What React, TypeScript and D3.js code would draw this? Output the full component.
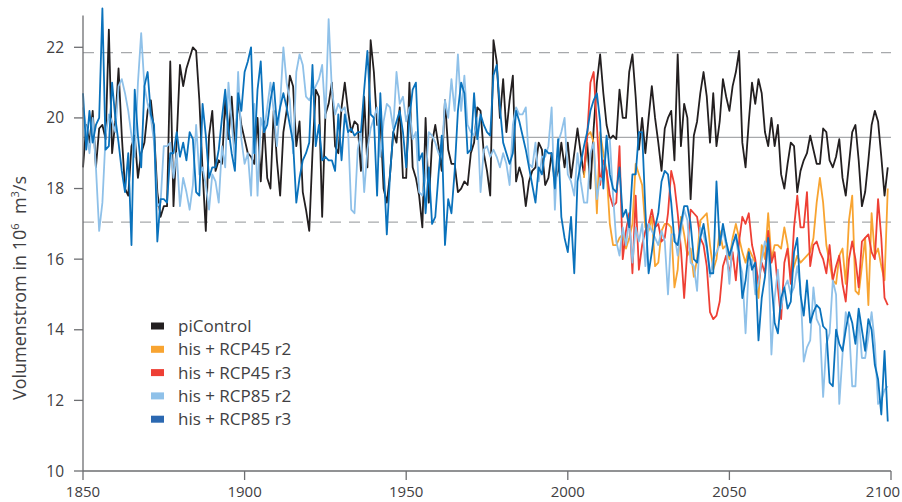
import React from 'react';
import * as d3 from 'd3';

// Jahreswerte
const piControl = [
  18.6, 19.8, 19.3, 20.2, 18.6, 19.7, 19.8, 19.4, 22.5, 19.0,
  19.9, 21.4, 19.5, 18.0, 17.8, 19.2, 19.5, 18.3, 19.0, 19.3,
  20.2, 20.5, 19.6, 17.9, 17.2, 17.5, 17.5, 21.6, 17.5, 19.4,
  21.5, 20.9, 21.4, 21.7, 22.0, 21.9, 20.5, 18.5, 16.8, 19.5,
  20.2, 18.5, 18.8, 18.7, 20.5, 19.4, 20.6, 19.2, 20.5, 19.8,
  19.4, 19.0, 18.9, 18.7, 20.0, 18.2, 19.9, 18.3, 18.0, 20.2,
  18.8, 17.8, 19.6, 20.2, 21.2, 20.9, 19.2, 19.9, 17.9, 17.4,
  16.8, 19.0, 20.8, 20.6, 17.2, 20.1, 20.4, 21.0, 19.2, 19.0,
  20.3, 21.0, 20.2, 19.6, 19.9, 19.8, 18.5, 20.6, 18.6, 22.2,
  21.3, 19.8, 20.0, 18.0, 17.6, 18.4, 19.6, 19.3, 20.3, 18.3,
  18.3, 21.0, 18.6, 18.3, 17.8, 16.9, 20.0, 17.6, 19.3, 19.8,
  19.2, 18.5, 20.5, 19.1, 18.7, 18.7, 17.9, 18.0, 18.2, 18.1,
  19.0, 19.3, 20.3, 20.2, 19.0, 18.5, 17.8, 22.2, 21.6, 20.0,
  21.1, 19.6, 20.5, 21.2, 18.2, 18.6, 18.3, 17.5, 18.2, 18.5,
  18.6, 19.3, 19.1, 18.1, 18.3, 19.0, 18.2, 18.5, 19.3, 18.6,
  19.3, 18.3, 19.0, 19.7, 19.0, 18.4, 19.3, 18.0, 19.7, 21.0,
  21.8, 20.7, 19.8, 19.4, 19.5, 19.4, 20.8, 20.0, 20.0, 21.3,
  21.8, 20.6, 19.1, 20.0, 19.0, 20.0, 20.9, 20.0, 19.3, 18.5,
  19.7, 20.0, 20.2, 18.8, 21.8, 19.2, 20.4, 20.0, 17.7, 19.5,
  19.9, 20.7, 21.3, 20.6, 19.3, 20.7, 19.2, 19.9, 21.1, 20.6,
  20.2, 20.9, 21.3, 21.9, 19.3, 18.6, 19.9, 21.0, 20.4, 21.1,
  20.7, 19.6, 19.2, 20.0, 19.2, 19.8, 18.4, 18.0, 18.7, 19.3,
  19.2, 17.9, 18.5, 18.8, 19.0, 19.5, 19.1, 18.7, 18.7, 19.7,
  19.6, 18.8, 18.6, 18.9, 19.4, 18.3, 17.8, 18.7, 19.6, 19.8,
  18.8, 17.5, 17.9, 18.8, 19.8, 20.2, 19.9, 18.9, 17.8, 18.6,
];

const rcp45r2 = [
  18.3, 19.5, 19.6, 19.3, 17.3,
  19.6, 19.0, 18.5, 17.0, 16.4, 16.4, 16.6, 16.7, 16.3, 16.6,
  17.0, 18.7, 18.4, 18.1, 16.9, 16.8, 17.2, 15.8, 15.9, 16.8,
  17.0, 17.0, 16.9, 15.2, 15.7, 17.2, 16.7, 16.1, 16.3, 15.5,
  16.0, 17.1, 17.2, 17.3, 16.4, 15.7, 16.0, 16.8, 16.3, 16.4,
  16.0, 16.6, 17.0, 16.6, 16.2, 15.9, 16.3, 16.1, 15.9, 14.9,
  16.4, 16.0, 17.3, 16.0, 16.4, 16.4, 16.3, 16.9, 16.4, 15.5,
  15.8, 16.1, 15.9, 16.0, 16.1, 16.2, 16.6, 17.6, 18.3, 17.6,
  16.4, 15.9, 15.4, 15.3, 16.1, 16.3, 15.3, 17.1, 17.8, 15.1,
  15.0, 15.8, 16.6, 14.7, 17.3, 16.1, 16.3, 15.8, 15.4, 18.0,
];

const rcp45r3 = [
  18.5, 19.5, 21.0, 21.3, 19.8,
  18.1, 18.8, 18.5, 17.8, 17.5, 17.6, 19.2, 16.0, 16.8, 17.3,
  15.6, 17.8, 15.7, 16.4, 16.8, 17.0, 17.4, 16.9, 17.0, 16.5,
  16.6, 17.3, 18.5, 18.1, 17.3, 16.3, 14.9, 16.3, 17.4, 17.3,
  17.2, 16.6, 16.4, 15.8, 14.5, 14.3, 14.4, 14.8, 15.8, 16.1,
  15.6, 16.2, 15.4, 16.5, 17.2, 17.0, 17.3, 16.4, 16.0, 15.3,
  15.9, 15.6, 16.8, 15.9, 16.2, 15.2, 14.3, 15.9, 16.3, 15.3,
  16.9, 17.8, 16.9, 16.9, 17.9, 15.8, 16.4, 16.5, 16.2, 16.0,
  15.6, 16.4, 15.4, 15.8, 16.1, 15.3, 14.8, 16.0, 16.5, 16.0,
  15.2, 16.5, 16.6, 16.7, 16.2, 16.0, 17.7, 16.6, 14.9, 14.7,
];

const rcp85r2 = [
  20.3, 19.7, 19.0, 20.0, 18.6, 16.8, 17.6, 19.5, 20.1, 19.9,
  19.6, 20.9, 21.1, 20.7, 20.2, 19.5, 18.9, 21.0, 22.4, 20.9,
  20.4, 20.0, 19.3, 17.5, 17.6, 19.2, 19.2, 19.3, 18.3, 19.0,
  17.5, 18.3, 17.9, 17.4, 18.1, 19.8, 18.4, 18.6, 18.1, 17.4,
  18.4, 18.2, 17.6, 19.2, 18.6, 21.0, 19.9, 18.8, 21.3, 19.4,
  18.7, 19.0, 17.8, 20.4, 17.8, 20.0, 19.6, 20.3, 21.0, 20.2,
  19.2, 20.4, 22.0, 21.0, 20.5, 19.0, 21.3, 21.8, 21.5, 20.6,
  20.5, 20.7, 20.9, 21.1, 21.5, 20.0, 22.8, 20.8, 20.1, 20.4,
  20.2, 20.3, 19.7, 17.4, 17.3, 19.1, 19.6, 17.9, 19.1, 19.7,
  20.0, 20.3, 18.9, 19.9, 20.4, 20.3, 19.7, 21.3, 20.4, 20.6,
  19.9, 20.3, 19.4, 19.6, 17.9, 17.8, 18.3, 19.6, 19.5, 19.3,
  19.0, 18.9, 20.5, 20.0, 21.1, 20.2, 21.8, 20.2, 21.2, 19.8,
  19.6, 19.5, 20.0, 17.9, 19.1, 19.2, 18.9, 19.1, 18.9, 18.6,
  19.0, 18.7, 18.1, 19.8, 20.3, 20.1, 20.1, 20.3, 18.7, 18.6,
  19.3, 18.2, 18.9, 18.9, 19.2, 20.3, 17.4, 19.3, 19.6, 20.0,
  18.4, 18.2, 17.8, 19.0, 18.2, 17.6, 17.6, 19.0, 19.3, 17.7,
  18.3, 18.2, 19.4, 19.4, 17.8, 16.5, 16.1, 16.9, 16.4, 17.1,
  15.9, 16.9, 16.5, 17.0, 15.8, 17.0, 16.8, 16.6, 16.4, 16.8,
  16.5, 15.0, 16.7, 16.7, 16.1, 16.8, 17.4, 17.1, 15.9, 15.8,
  15.1, 16.9, 16.7, 16.3, 15.5, 16.0, 16.2, 16.4, 16.8, 16.4,
  15.3, 16.5, 16.6, 16.0, 15.6, 13.9, 15.8, 16.0, 15.0, 15.3,
  16.0, 16.5, 16.3, 13.3, 14.9, 15.7, 14.6, 15.2, 15.4, 15.0,
  15.2, 15.8, 15.2, 13.1, 13.5, 13.7, 15.2, 14.3, 14.1, 12.1,
  13.6, 13.9, 15.4, 15.0, 11.9, 13.3, 14.5, 14.1, 12.4, 12.4,
  14.4, 13.2, 13.2, 13.8, 14.5, 13.6, 11.9, 12.0, 12.3, 12.4,
];

const rcp85r3 = [
  20.7, 19.1, 20.2, 19.3, 19.8, 20.0, 23.1, 19.1, 19.2, 21.0,
  20.0, 19.3, 18.5, 17.9, 19.0, 16.4, 20.8, 19.5, 18.6, 20.9,
  21.3, 20.1, 19.8, 16.5, 17.7, 17.7, 17.6, 19.0, 19.0, 19.6,
  18.9, 19.3, 18.8, 19.6, 19.4, 17.9, 17.8, 20.4, 19.5, 18.3,
  18.6, 18.6, 19.1, 20.0, 20.8, 19.7, 19.0, 18.5, 20.7, 20.2,
  21.3, 21.6, 22.0, 19.0, 20.8, 21.6, 19.6, 19.8, 20.5, 21.0,
  19.8, 20.3, 20.7, 20.3, 19.8, 19.3, 17.6, 18.3, 18.8, 19.0,
  19.3, 21.5, 19.2, 19.8, 18.8, 18.9, 18.8, 18.8, 18.5, 20.1,
  18.8, 20.1, 19.6, 19.7, 19.5, 19.6, 19.6, 20.8, 21.9, 20.1,
  20.0, 17.8, 20.7, 18.7, 16.7, 18.4, 19.6, 19.9, 20.2, 19.6,
  18.6, 20.0, 20.8, 21.0, 18.8, 19.0, 17.3, 18.6, 17.0, 17.2,
  18.4, 19.5, 16.4, 17.7, 17.3, 18.5, 20.2, 21.0, 20.7, 19.0,
  19.1, 20.7, 19.4, 20.1, 19.8, 19.6, 19.5, 21.2, 21.5, 20.3,
  19.3, 19.0, 18.7, 19.0, 20.2, 19.9, 19.5, 19.1, 18.6, 18.1,
  17.6, 18.6, 18.4, 19.1, 19.0, 19.0, 18.0, 19.4, 17.2, 16.6,
  16.2, 17.2, 15.6, 18.2, 18.7, 19.2, 19.6, 20.2, 20.5, 20.7,
  19.9, 18.0, 19.5, 18.4, 18.0, 17.9, 18.6, 17.2, 17.4, 16.9,
  18.4, 18.4, 19.6, 19.6, 17.4, 15.6, 16.2, 16.9, 17.3, 18.2,
  18.5, 18.4, 17.6, 16.5, 16.4, 17.0, 17.5, 17.5, 17.0, 16.0,
  15.9, 16.6, 17.0, 16.4, 15.6, 15.6, 18.2, 16.4, 17.0, 16.5,
  16.1, 16.4, 16.7, 16.2, 14.9, 15.4, 16.2, 15.7, 15.9, 13.7,
  14.9, 15.5, 16.6, 15.4, 14.2, 13.9, 14.9, 15.2, 14.6, 14.8,
  16.2, 16.6, 15.0, 14.4, 15.4, 14.2, 14.5, 14.7, 14.6, 14.1,
  14.0, 12.5, 12.4, 14.0, 13.6, 13.4, 14.0, 14.5, 14.2, 13.6,
  14.6, 14.0, 13.4, 14.3, 14.0, 13.0, 12.6, 11.6, 13.4, 11.4,
];

// Referenzlinien: Mittelwert und Schwankungsband piControl
const meanLevel = 19.45;
const bandLevels = [21.85, 17.05];

const yTicks = [10, 12, 14, 16, 18, 20, 22];
const xTicks = [1850, 1900, 1950, 2000, 2050, 2100];

const series = [
  { name: 'piControl', start: 1850, values: piControl, color: '#231f20', legend: '#231f20' },
  { name: 'his + RCP45 r2', start: 2005, values: rcp45r2, color: '#f8a431', legend: '#f8a431' },
  { name: 'his + RCP45 r3', start: 2005, values: rcp45r3, color: '#ee3f34', legend: '#ee3f34' },
  { name: 'his + RCP85 r2', start: 1850, values: rcp85r2, color: '#8fc1e9', legend: '#8fc1e9' },
  { name: 'his + RCP85 r3', start: 1850, values: rcp85r3, color: '#0a72bc', legend: '#2b68b1' },
];

const W = 902;
const H = 502;
const font = '"Open Sans", "Noto Sans", sans-serif';

export default function App() {
  const x = d3.scaleLinear().domain([1850, 2100]).range([83, 891]);
  const y = d3.scaleLinear().domain([10, 22]).range([471, 47.3]);
  const yTop = y(22.9);

  const line = d3.line<[number, number]>()
    .x(d => x(d[0]))
    .y(d => y(d[1]));

  const axisColor = '#6d6e71';
  const textColor = '#414042';

  return (
    <svg width={W} height={H} style={{ position: 'absolute', left: 0, top: 0 }} fontFamily={font}>
      {/* Referenzlinien */}
      <line x1={x(1850)} x2={x(2100)} y1={y(meanLevel)} y2={y(meanLevel)} stroke="#a7a9ac" strokeWidth={1.3} />
      {bandLevels.map(v => (
        <line key={v} x1={x(1850)} x2={x(2100)} y1={y(v)} y2={y(v)}
          stroke="#a7a9ac" strokeWidth={1.3} strokeDasharray="11,8" />
      ))}

      {/* Zeitreihen */}
      {series.map(s => (
        <path key={s.name}
          d={line(s.values.map((v, i) => [s.start + i, v] as [number, number])) || ''}
          fill="none" stroke={s.color} strokeWidth={1.8} strokeLinejoin="round" />
      ))}

      {/* Achsen */}
      <line x1={x(1850)} x2={x(1850)} y1={yTop} y2={y(10)} stroke={axisColor} strokeWidth={1.3} />
      <line x1={x(1850)} x2={x(2100)} y1={y(10)} y2={y(10)} stroke={axisColor} strokeWidth={1.3} />
      {yTicks.map(t => (
        <g key={t}>
          <line x1={x(1850) - 9} x2={x(1850)} y1={y(t)} y2={y(t)} stroke={axisColor} strokeWidth={1.3} />
          <text x={x(1850) - 19} y={y(t) + 5.5} textAnchor="end" fontSize={15.5} fill={textColor}>{t}</text>
        </g>
      ))}
      {xTicks.map(t => {
        // letzte Beschriftung nicht über den Rand hinaus
        const lx = Math.min(x(t), W - 19);
        return (
          <g key={t}>
            <line x1={x(t)} x2={x(t)} y1={y(10)} y2={y(10) + 9} stroke={axisColor} strokeWidth={1.3} />
            <text x={lx} y={y(10) + 26} textAnchor="middle" fontSize={15} fill={textColor}>{t}</text>
          </g>
        );
      })}

      {/* Achsentitel */}
      <text transform={`translate(26, 288) rotate(-90)`} textAnchor="middle" fontSize={18} fill={textColor}>
        Volumenstrom in 10<tspan dy={-7} fontSize={11}>6</tspan><tspan dy={7}>{'\u00a0\u00a0m'}</tspan><tspan dy={-7} fontSize={11}>3</tspan><tspan dy={7}>/s</tspan>
      </text>

      {/* Legende */}
      {series.map((s, i) => (
        <g key={s.name} transform={`translate(151, ${326 + i * 23.3})`}>
          <rect x={0} y={-3.5} width={13} height={7} fill={s.legend} />
          <text x={27} y={6} fontSize={17} fill={textColor}>{s.name}</text>
        </g>
      ))}
    </svg>
  );
}
